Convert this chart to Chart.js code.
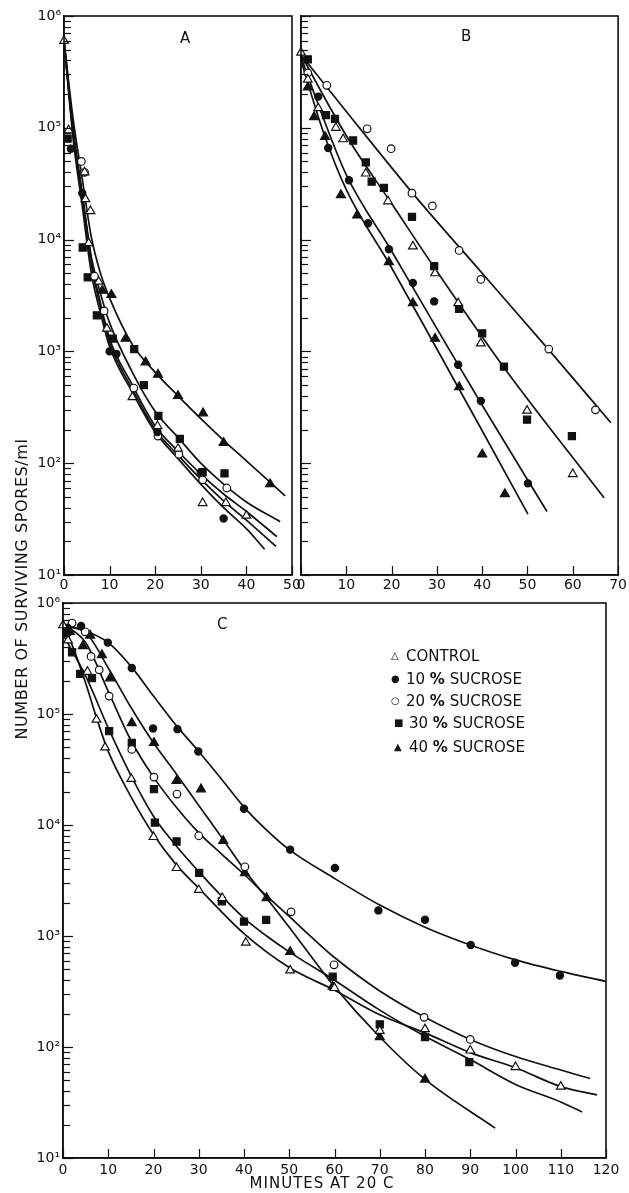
<!DOCTYPE html>
<html><head><meta charset="utf-8">
<script src="https://cdn.jsdelivr.net/npm/chart.js@4.4.1/dist/chart.umd.min.js"></script>
<style>
html,body{margin:0;padding:0;background:#fff;width:629px;height:1193px;overflow:hidden;position:relative;font-family:'DejaVu Sans',sans-serif;color:#111}
canvas{position:absolute}
.t{position:absolute;white-space:nowrap;line-height:1}
.lg{position:absolute;white-space:nowrap;font-size:15px;line-height:1}
.mk{display:inline-block;width:15px;font-size:10px;vertical-align:2px}
</style></head><body>
<canvas id="cA" width="312" height="610" style="left:0;top:0"></canvas>
<canvas id="cB" width="344" height="610" style="left:285px;top:0"></canvas>
<canvas id="cC" width="629" height="608" style="left:0;top:585px"></canvas>

<div class="t" style="left:180px;top:31px;font-size:15px">A</div>
<div class="t" style="left:461px;top:29px;font-size:15px">B</div>
<div class="t" style="left:217px;top:617px;font-size:15px">C</div>
<div class="t" style="left:-148px;top:581px;width:340px;text-align:center;font-size:16px;letter-spacing:0.6px;transform:rotate(-90deg)">NUMBER OF SURVIVING SPORES/ml</div>
<div class="t" style="left:172px;top:1176px;width:300px;text-align:center;font-size:15px;letter-spacing:1px">MINUTES AT 20 C</div>

<div id="legend"></div>

<script>
// ---------- axis ticks ----------
const yPowers = [1, 2, 3, 4, 5, 6];
const yPowerLabels = ['10¹', '10²', '10³', '10⁴', '10⁵', '10⁶'];
const yMinorMultipliers = [1, 2, 3, 4, 5, 6, 7, 8, 9];
const xTicksA = [0, 10, 20, 30, 40, 50];
const xTicksB = [0, 10, 20, 30, 40, 50, 60, 70];
const xTicksC = [0, 10, 20, 30, 40, 50, 60, 70, 80, 90, 100, 110, 120];

// ---------- series ----------
const seriesNames = ['CONTROL', '10 % SUCROSE', '20 % SUCROSE', '30 % SUCROSE', '40 % SUCROSE'];

// Panel A : observed points  [minutes, spores/ml]
const aControlPts = [[0,6e5],[1,9.5e4],[4.5,4e4],[4.7,2.3e4],[5.8,1.8e4],[5.4,9.3e3],[7.6,4.2e3],[9.4,1.6e3],[15,390],[20.5,215],[25,135],[30.4,44],[35.5,44],[40,34]];
const a10Pts = [[1.5,6.5e4],[4,2.6e4],[10,1e3],[11.5,950],[20.5,190],[30,83],[35,32]];
const a20Pts = [[3.8,5e4],[4.5,4e4],[6.7,4.7e3],[8.8,2.3e3],[15.3,470],[20.6,175],[25.2,120],[30.4,71],[35.7,60]];
const a30Pts = [[0.8,8e4],[4.1,8.5e3],[5.2,4.6e3],[7.2,2.1e3],[10.7,1.3e3],[15.4,1050],[17.5,500],[20.7,265],[25.4,165],[30.4,83],[35.2,81]];
const a40Pts = [[8.4,3.5e3],[10.4,3.2e3],[13.5,1.3e3],[17.9,800],[20.6,620],[25,400],[30.5,280],[35,152],[45.2,65]];
// Panel A : fitted curves
const aControlFit = [[0,6e5],[2,9e4],[4,2.4e4],[6,6e3],[8,2.5e3],[10,1.2e3],[15,460],[20,200],[25,118],[30,72],[35,46],[40,31],[46.5,18]];
const a10Fit = [[0,6e5],[2,8e4],[4,2e4],[6,5e3],[8,2.2e3],[10,1.1e3],[15,430],[20,190],[25,110],[30,65],[35,40],[40,26],[44,17]];
const a20Fit = [[0,6e5],[2,9e4],[4,2.5e4],[6,6.5e3],[8,2.7e3],[10,1.3e3],[15,500],[20,215],[25,128],[30,80],[35,53],[40,37],[46.7,22]];
const a30Fit = [[0,6e5],[2,1e5],[4,2.6e4],[6,7e3],[8,3.3e3],[10,1.8e3],[15,650],[20,290],[25,170],[30,100],[35,65],[40,45],[47.4,30]];
const a40Fit = [[0,6e5],[2,1.2e5],[4,3.5e4],[6,1.05e4],[8,5e3],[10,3e3],[15,1.15e3],[20,650],[25,400],[30,250],[35,160],[40,105],[48.5,51]];

// Panel B
const bControlPts = [[0,4.7e5],[1.5,2.7e5],[3.8,1.5e5],[7.7,1e5],[9.3,7.9e4],[14.3,3.9e4],[19.2,2.2e4],[24.7,8.7e3],[29.6,5e3],[34.7,2.7e3],[39.7,1.18e3],[49.9,295],[60,80]];
const b10Pts = [[3.8,1.9e5],[6,6.6e4],[10.6,3.4e4],[14.8,1.4e4],[19.4,8.2e3],[24.7,4.1e3],[29.4,2.8e3],[34.7,760],[39.7,360],[50.1,66]];
const b20Pts = [[1.5,3.1e5],[5.7,2.4e5],[14.6,9.8e4],[19.9,6.5e4],[24.5,2.6e4],[29,2e4],[34.9,8e3],[39.7,4.4e3],[54.7,1.05e3],[65,300]];
const b30Pts = [[1.5,4.1e5],[5.5,1.3e5],[7.5,1.2e5],[11.5,7.7e4],[14.3,4.9e4],[15.6,3.3e4],[18.3,2.9e4],[24.5,1.6e4],[29.4,5.8e3],[34.9,2.4e3],[40,1.45e3],[44.8,730],[49.9,245],[59.8,175]];
const b40Pts = [[1.5,2.3e5],[2.9,1.25e5],[5.3,8.3e4],[8.8,2.5e4],[12.4,1.65e4],[19.4,6.3e3],[24.7,2.7e3],[29.6,1.3e3],[34.9,480],[40,120],[45,53]];
const bControl30Fit = [[0,4.5e5],[10,8.5e4],[20,2.1e4],[30,5.2e3],[45,700],[66.9,49]];
const b10Fit = [[0,4.3e5],[5,1.2e5],[10,3.8e4],[20,7.9e3],[30,1.6e3],[40,330],[54.3,37]];
const b20Fit = [[0,4.5e5],[10,1.4e5],[25,2.5e4],[40,5e3],[55,1.0e3],[68.4,230]];
const b40Fit = [[0,4e5],[5,9e4],[10,2.8e4],[20,5.6e3],[30,1.05e3],[40,195],[50.1,35]];

// Panel C
const cControlPts = [[0,6.3e5],[1.1,4.6e5],[5.4,2.4e5],[7.4,8.9e4],[9.3,5e4],[15.1,2.6e4],[20,7.8e3],[25.1,4.1e3],[30,2.6e3],[35.2,2.2e3],[40.4,870],[50.2,490],[60,340],[70,140],[80,145],[90,93],[100,66],[110,44]];
const c10Pts = [[1,6e5],[4,6.2e5],[9.9,4.4e5],[15.2,2.6e5],[19.9,7.4e4],[25.3,7.3e4],[29.9,4.6e4],[40,1.4e4],[50.2,6e3],[60.1,4.1e3],[69.7,1.7e3],[80,1.4e3],[90.1,830],[99.9,575],[109.8,440]];
const c20Pts = [[2,6.6e5],[4.9,5.5e5],[6.2,3.3e5],[8,2.5e5],[10.2,1.45e5],[15.2,4.8e4],[20.1,2.7e4],[25.2,1.9e4],[30,8e3],[40.2,4.2e3],[50.4,1.65e3],[59.9,550],[79.8,185],[90,117]];
const c30Pts = [[0.9,5.5e5],[2,3.6e5],[3.8,2.3e5],[6.4,2.1e5],[10.2,7e4],[15.2,5.5e4],[20.1,2.1e4],[20.3,1.05e4],[25.1,7.1e3],[30.1,3.7e3],[35.1,2.05e3],[40,1.35e3],[44.9,1.4e3],[59.6,430],[70,160],[80,123],[89.8,73]];
const c40Pts = [[1.5,5.5e5],[4.4,4.1e5],[6,5.1e5],[8.6,3.4e5],[10.4,2.1e5],[15.2,8.3e4],[20.1,5.5e4],[25.1,2.5e4],[30.5,2.1e4],[35.4,7.2e3],[40.2,3.7e3],[45,2.2e3],[50.2,720],[59.6,350],[70,123],[80,51]];
const cControlFit = [[0,6.3e5],[2,4.2e5],[5,1.9e5],[7.5,9e4],[10,4.6e4],[15,1.8e4],[20,8.2e3],[25,4.4e3],[30,2.7e3],[40,1.05e3],[50,520],[60,325],[70,195],[80,134],[90,89],[100,65],[110,44],[118,37]];
const c10Fit = [[0,6.3e5],[5,5.6e5],[10,4.4e5],[15,2.7e5],[20,1.45e5],[25,7.9e4],[30,4.6e4],[35,2.6e4],[40,1.45e4],[45,9e3],[50,6e3],[60,3.3e3],[70,1.9e3],[80,1.2e3],[90,830],[100,610],[110,480],[120,390]];
const c20Fit = [[0,6.5e5],[5,4.4e5],[10,1.6e5],[15,5.8e4],[20,2.7e4],[25,1.45e4],[30,8.5e3],[35,5.5e3],[40,3.6e3],[45,2.3e3],[50,1.5e3],[55,970],[60,640],[70,320],[80,185],[90,117],[100,82],[110,62],[116.5,52]];
const c30Fit = [[0,5.2e5],[5,2.2e5],[10,7.5e4],[15,2.8e4],[20,1.2e4],[25,6.5e3],[30,3.8e3],[35,2.3e3],[40,1.45e3],[45,1e3],[50,720],[60,400],[70,215],[80,125],[90,77],[100,46],[110,32],[114.7,26]];
const c40Fit = [[0,6.2e5],[5,5.4e5],[10,2.6e5],[15,1.15e5],[20,5.5e4],[25,2.9e4],[30,1.5e4],[35,7.8e3],[40,4e3],[45,2.2e3],[50,1.2e3],[60,350],[70,123],[80,51],[95.5,18.6]];

// ---------- styles ----------
const INK = '#111';
const markerStyles = [
  {pointStyle:'triangle', radius:5, fill:'#fff'},
  {pointStyle:'circle', radius:3.6, fill:INK},
  {pointStyle:'circle', radius:3.8, fill:'#fff'},
  {pointStyle:'rect', radius:5, fill:INK},
  {pointStyle:'triangle', radius:5.2, fill:INK}
];

const yTickValues = [];
yPowers.forEach(p => {
  if (p === 6) { yTickValues.push(Math.pow(10, p)); return; }
  yMinorMultipliers.forEach(m => yTickValues.push(m * Math.pow(10, p)));
});
const yPowerValues = yPowers.map(p => Math.pow(10, p));

const toXY = arr => arr.map(([x, y]) => ({x, y}));

function pointDataset(pts, i) {
  const s = markerStyles[i];
  return {data: toXY(pts), showLine:false, pointStyle:s.pointStyle, pointRadius:s.radius,
    pointHoverRadius:s.radius, backgroundColor:s.fill, borderColor:INK, pointBorderWidth:1.2,
    borderWidth:1.2, clip:false, order:0};
}
function fitDataset(pts) {
  return {data: toXY(pts), showLine:true, pointRadius:0, pointHoverRadius:0, borderColor:INK,
    borderWidth:1.7, cubicInterpolationMode:'monotone', fill:false, order:1};
}

// box frame + inward tick marks at the scales' own tick positions
const framePlugin = {
  id:'frame',
  afterDatasetsDraw(chart) {
    const {ctx, chartArea:a} = chart;
    const xs = chart.scales.x, ys = chart.scales.y;
    ctx.save(); ctx.strokeStyle = INK; ctx.lineWidth = 1.6;
    ctx.strokeRect(a.left, a.top, a.right - a.left, a.bottom - a.top);
    ctx.lineWidth = 1.2;
    xs.ticks.forEach(t => {
      const px = Math.round(xs.getPixelForValue(t.value)) + 0.5;
      ctx.beginPath(); ctx.moveTo(px, a.bottom); ctx.lineTo(px, a.bottom - 9); ctx.stroke();
    });
    ys.ticks.forEach(t => {
      const py = Math.round(ys.getPixelForValue(t.value)) + 0.5;
      const len = yPowerValues.includes(t.value) ? 10 : 7;
      ctx.beginPath(); ctx.moveTo(a.left, py); ctx.lineTo(a.left + len, py); ctx.stroke();
    });
    ctx.restore();
  }
};

function makeChart(id, o) {
  new Chart(document.getElementById(id), {
    type:'scatter',
    data:{datasets:o.datasets},
    options:{
      responsive:false, animation:false, devicePixelRatio:1,
      layout:{padding:o.padding},
      plugins:{legend:{display:false}, tooltip:{enabled:false}},
      events:[],
      scales:{
        x:{type:'linear', min:0, max:o.xMax, position:'bottom',
          afterBuildTicks:s => { s.ticks = o.xTicks.map(v => ({value:v})); },
          afterFit:s => { s.height = 26; },
          grid:{drawOnChartArea:false, drawTicks:false, tickLength:0},
          border:{display:true, color:INK, width:1.6},
          ticks:{autoSkip:false, maxRotation:0, padding:o.xPad, color:INK, font:{family:'DejaVu Sans', size:14}}},
        y:{type:'logarithmic', min:10, max:1e6, position:'left',
          afterBuildTicks:s => { s.ticks = yTickValues.map(v => ({value:v})); },
          afterFit:s => { s.width = o.yWidth; },
          grid:{drawOnChartArea:false, drawTicks:false, tickLength:0},
          border:{display:true, color:INK, width:1.6},
          ticks:{autoSkip:false, padding:3, color:INK, font:{family:'DejaVu Sans', size:14},
            callback:v => { const k = yPowerValues.indexOf(v); return (o.yLabels && k >= 0) ? yPowerLabels[k] : ''; }}}
      }
    },
    plugins:[framePlugin]
  });
}

makeChart('cA', {
  xMax:50, xTicks:xTicksA, yWidth:64, yLabels:true, xPad:2,
  padding:{left:0, top:16, right:20, bottom:9},
  datasets:[fitDataset(aControlFit), fitDataset(a10Fit), fitDataset(a20Fit), fitDataset(a30Fit), fitDataset(a40Fit),
    pointDataset(aControlPts,0), pointDataset(a10Pts,1), pointDataset(a20Pts,2), pointDataset(a30Pts,3), pointDataset(a40Pts,4)]
});
makeChart('cB', {
  xMax:70, xTicks:xTicksB, yWidth:16, yLabels:false, xPad:2,
  padding:{left:0, top:16, right:10, bottom:9},
  datasets:[fitDataset(bControl30Fit), fitDataset(b10Fit), fitDataset(b20Fit), fitDataset(b40Fit),
    pointDataset(bControlPts,0), pointDataset(b10Pts,1), pointDataset(b20Pts,2), pointDataset(b30Pts,3), pointDataset(b40Pts,4)]
});
makeChart('cC', {
  xMax:120, xTicks:xTicksC, yWidth:63, yLabels:true, xPad:4,
  padding:{left:0, top:18, right:23, bottom:9},
  datasets:[fitDataset(cControlFit), fitDataset(c10Fit), fitDataset(c20Fit), fitDataset(c30Fit), fitDataset(c40Fit),
    pointDataset(cControlPts,0), pointDataset(c10Pts,1), pointDataset(c20Pts,2), pointDataset(c30Pts,3), pointDataset(c40Pts,4)]
});

// ---------- legend (panel C) ----------
const legendMarks = ['△', '●', '○', '■', '▲'];
const legendTops = [649, 672, 694, 716, 740];
const legendLefts = [391, 391, 391, 394, 394];
const lg = document.getElementById('legend');
seriesNames.forEach((name, i) => {
  const d = document.createElement('div');
  d.className = 'lg';
  d.style.left = legendLefts[i] + 'px';
  d.style.top = legendTops[i] + 'px';
  d.innerHTML = '<span class="mk">' + legendMarks[i] + '</span>' + name.replace('%', '<b>%</b>');
  lg.appendChild(d);
});
</script>
</body></html>
